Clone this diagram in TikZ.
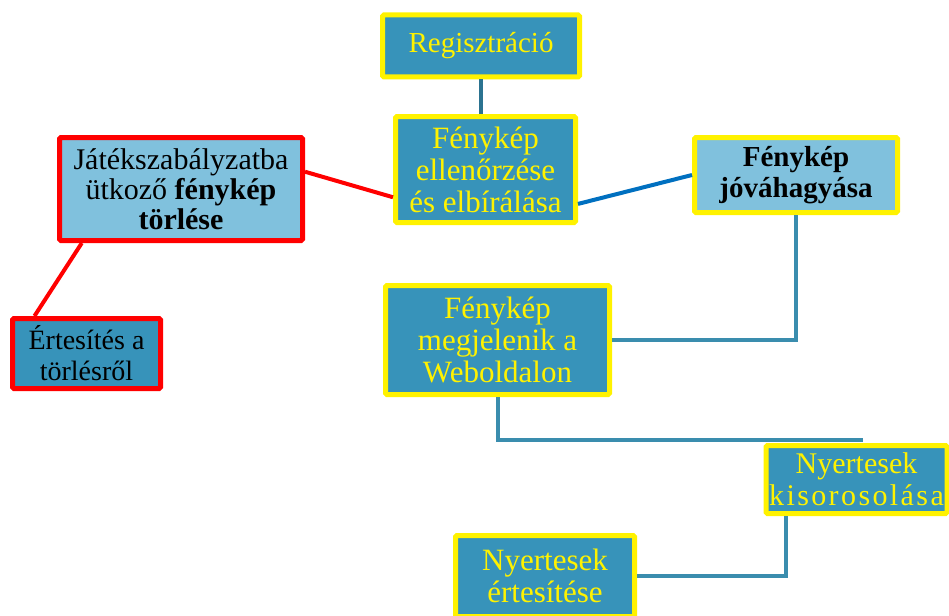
\documentclass[tikz,border=0pt]{standalone}
\usepackage{fontspec}
\setmainfont{Liberation Serif}
\newfontfamily\boxfont{Liberation Serif}
\usetikzlibrary{calc}

\definecolor{boxdark}{HTML}{3793BA}
\definecolor{boxlight}{HTML}{80C1DD}
\definecolor{linkteal}{HTML}{3A8DAE}
\definecolor{linkdark}{HTML}{2B7390}
\definecolor{linkblue}{HTML}{0070C0}

\newcommand\boxsize[2]{\boxfont\fontsize{#1}{#2}\selectfont}

\begin{document}
\begin{tikzpicture}[x=1pt, y=-1pt,
  every node/.style={font=\boxsize{31}{32}, align=center, inner sep=0pt},
  stagebox/.style={draw=yellow, line width=5pt, rounded corners=1.5pt, fill=boxdark, text=yellow},
  okbox/.style={stagebox, fill=boxlight, text=black, font=\boxsize{29}{31}\bfseries},
  rejectbox/.style={draw=red, line width=5pt, rounded corners=1.5pt, fill=boxlight, text=black},
  link/.style={line width=4pt, draw=linkteal}]
  \useasboundingbox (0,0) rectangle (949,615);

  % Main flow boxes
  \node[stagebox, minimum width=197, minimum height=62, font=\boxsize{29}{32}] (reg) at (481,46) {Regisztráció};
  \node[stagebox, minimum width=180, minimum height=106] (check) at (485.5,169.5)
    {Fénykép\\ellenőrzése\\és elbírálása};
  \node[okbox, minimum width=203, minimum height=75] (approve) at (796,175)
    {Fénykép\\jóváhagyása};
  \node[stagebox, minimum width=224, minimum height=109] (show) at (497.5,340)
    {Fénykép\\megjelenik a\\Weboldalon};
  \node[stagebox, minimum width=181, minimum height=68, font=\boxsize{30}{32}] (draw) at (856.5,479.5)
    {Nyertesek\\{\addfontfeature{LetterSpace=8}kisorosolása}};
  \node[stagebox, minimum width=179, minimum height=81] (notify) at (545,576)
    {Nyertesek\\értesítése};

  % Rejected branch
  \node[rejectbox, minimum width=243, minimum height=103, font=\boxsize{30}{30}] (reject) at (181,189)
    {Játékszabályzatba\\ütkoző \textbf{fénykép}\\\textbf{törlése}};
  \node[rejectbox, fill=boxdark, minimum width=148, minimum height=70, font=\boxsize{28}{31}] (tellrej) at (86.5,353.5)
    {Értesítés a\\törlésről};

  % Connectors
  \draw[link, draw=linkdark] (reg.south) -- (reg.south |- check.north);
  \draw[line width=4pt, red]
    ($(reject.north east)!0.34!(reject.south east)$) -- ($(check.north west)!0.75!(check.south west)$);
  \draw[line width=4pt, red]
    ($(reject.south west)!0.1!(reject.south east)$) -- ($(tellrej.north west)!0.16!(tellrej.north east)$);
  \draw[line width=4pt, linkblue]
    ($(check.north east)!0.81!(check.south east)$) -- (approve.west);
  \draw[link] (approve.south) |- (show.east);
  \draw[link] (show.south) |- ($(draw.north)+(6,-3)$);
  \draw[link] ($(draw.south west)!0.12!(draw.south east)$) |- (notify.east);
\end{tikzpicture}
\end{document}
